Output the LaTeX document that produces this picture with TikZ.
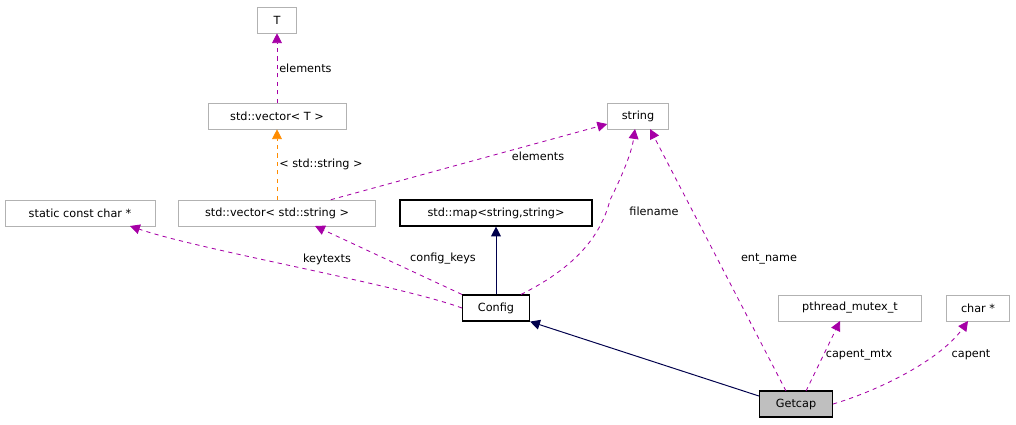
\documentclass[tikz,border=0pt]{standalone}
\usepackage{fontspec}
\setmainfont{DejaVu Sans}
\usetikzlibrary{arrows.meta}
\tikzset{
  cls/.style={draw=black!30, fill=white, minimum height=0.65cm, inner xsep=2pt, font=\fontsize{8}{9}\selectfont},
  main/.style={cls, draw=black, line width=0.8pt},
  cur/.style={main, fill=black!25},
  use/.style={draw=violet!70!magenta, dashed, line width=0.6pt, -{Triangle[length=7pt,width=7pt]}},
  tmpl/.style={use, draw=orange!90!yellow},
  inh/.style={draw=blue!30!black, line width=0.7pt, -{Triangle[length=7pt,width=7pt]}},
  lbl/.style={font=\fontsize{8}{9}\selectfont}
}
\begin{document}
\begin{tikzpicture}[x=0.025cm, y=-0.025cm]
\useasboundingbox (0,0) rectangle (1016,424);
\node[cls, minimum width=0.975cm] (T) at (277,20) {T};
\node[cls, minimum width=3.45cm] (vecT) at (277,116) {std::vector< T >};
\node[cls, minimum width=1.525cm] (str) at (638,116) {string};
\node[cls, minimum width=3.75cm] (sc) at (80,213) {static const char *};
\node[cls, minimum width=4.925cm] (vecs) at (277,213) {std::vector< std::string >};
\node[main, minimum width=4.8cm] (map) at (496,213) {std::map<string,string>};
\node[main, minimum width=1.675cm] (cfg) at (496,308) {Config};
\node[cls, minimum width=3.575cm] (pm) at (850,308) {pthread\_mutex\_t};
\node[cls, minimum width=1.575cm] (cp) at (978,308) {char *};
\node[cur, minimum width=1.825cm] (gc) at (796,404) {Getcap};
% templates and members
\draw[use] (vecT) -- (T) node[lbl, pos=0.5, right=-2pt] {elements};
\draw[tmpl] (vecs) -- (vecT) node[lbl, pos=0.5, right=-2pt] {< std::string >};
\draw[use] (vecs.north east) ++(-45,0) coordinate (v1) (v1) -- (str.west |- 0,124) node[lbl, pos=0.75, below=3pt] {elements};
\draw[use] (cfg.west) .. controls (400,285) and (200,250) .. (130,226);
\node[lbl] (kt) at (327,259) {keytexts};
\draw[use] (cfg.north west) -- (315,226);
\node[lbl] (ck) at (443,259) {config\_keys};
\draw[inh] (cfg) -- (map);
\draw[use] (cfg.north) ++(25,0) coordinate (c1) (c1) .. controls (570,270) and (600,240) .. (610,200) .. controls (625,170) and (632,150) .. (635,129);
\node[lbl] (fn) at (654,211) {filename};
\draw[use] (786,391) -- (650,129);
\node[lbl] (en) at (769,259) {ent\_name};
\draw[inh] (gc.west) ++(0,-8) coordinate (g1) (g1) -- (cfg.south east);
\draw[use] (806,391) -- (840,321);
\node[lbl] (cm) at (859,355) {capent\_mtx};
\draw[use] (gc.east) .. controls (880,390) and (940,360) .. (968,321);
\node[lbl] (ce) at (971,355) {capent};
\end{tikzpicture}
\end{document}
